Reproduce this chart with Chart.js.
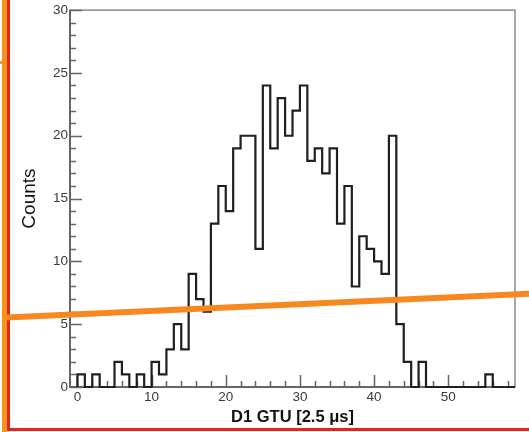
<!DOCTYPE html>
<html>
<head>
<meta charset="utf-8">
<title>D1 GTU distribution</title>
<script src="https://cdn.jsdelivr.net/npm/chart.js@4.4.1/dist/chart.umd.min.js"></script>
<style>
  html, body { margin: 0; padding: 0; background: #ffffff; }
  #wrap { position: relative; width: 529px; height: 432px; overflow: hidden; }
  canvas { display: block; }
</style>
</head>
<body>
<div id="wrap"><canvas id="hist" width="529" height="432"></canvas></div>
<script>
// Histogram of D1 GTU values (1 GTU = 2.5 µs), unit-width bins starting at 0
const binStart = 0;
const binWidth = 1;
const counts = [
  1, 0, 1, 0, 0, 2, 1, 0, 1, 0,
  2, 1, 3, 5, 3, 9, 7, 6, 13, 16,
  14, 19, 20, 20, 11, 24, 19, 23, 20, 22,
  24, 18, 19, 17, 19, 13, 16, 8, 12, 11,
  10, 9, 20, 5, 2, 0, 2, 0, 0, 0,
  0, 0, 0, 0, 0, 1, 0, 0, 0
];
const xTickValues = [0, 10, 20, 30, 40, 50];
const yTickValues = [0, 5, 10, 15, 20, 25, 30];
// straight guide line overlaid on the plot, given in axis units
const guideX = [-9.6, 60.9];
const guideY = [5.53, 7.43];

const FONT = "'Liberation Sans', Arial, Helvetica, sans-serif";

// step outline: one point per bin lower edge, closed down to zero at both ends
const outline = [{ x: binStart, y: 0 }];
counts.forEach((c, i) => outline.push({ x: binStart + i * binWidth, y: c }));
outline.push({ x: binStart + counts.length * binWidth, y: 0 });

// ROOT-style frame with tick marks pointing into the plot
const rootAxes = {
  id: 'rootAxes',
  beforeDatasetsDraw(chart) {
    const { ctx, chartArea: a, scales: { x, y } } = chart;
    ctx.save();
    ctx.strokeStyle = '#8c8c8c';
    ctx.lineWidth = 1.5;
    ctx.strokeRect(a.left, a.top, a.right - a.left, a.bottom - a.top);
    ctx.strokeStyle = '#666666';
    ctx.lineWidth = 2;
    ctx.beginPath();
    ctx.moveTo(a.left, a.top);
    ctx.lineTo(a.left, a.bottom);
    ctx.lineTo(a.right, a.bottom);
    ctx.stroke();
    ctx.lineWidth = 1.5;
    ctx.beginPath();
    for (let v = y.min; v <= y.max; v += 1) {
      const len = v % 5 === 0 ? 12 : 6;
      const py = Math.round(y.getPixelForValue(v)) + 0.5;
      ctx.moveTo(a.left, py);
      ctx.lineTo(a.left + len, py);
    }
    for (let v = 0; v <= x.max; v += 2) {
      const len = v % 10 === 0 ? 12 : 6;
      const px = Math.round(x.getPixelForValue(v)) + 0.5;
      ctx.moveTo(px, a.bottom);
      ctx.lineTo(px, a.bottom - len);
    }
    ctx.stroke();
    ctx.restore();
  },
  afterDraw(chart) {
    const { ctx, width, height, scales: { x, y } } = chart;
    ctx.save();
    // page edge markings
    ctx.fillStyle = '#f5931f';
    ctx.fillRect(2, 0, 5, height);
    ctx.fillRect(0, 61, 6, 3);
    ctx.fillStyle = '#e3241b';
    ctx.fillRect(7, 0, 3, height - 1);
    ctx.fillRect(7, height - 4, width - 7, 3);
    // guide line
    ctx.strokeStyle = '#f5891f';
    ctx.lineWidth = 6;
    ctx.lineCap = 'butt';
    ctx.beginPath();
    ctx.moveTo(x.getPixelForValue(guideX[0]), y.getPixelForValue(guideY[0]));
    ctx.lineTo(x.getPixelForValue(guideX[1]), y.getPixelForValue(guideY[1]));
    ctx.stroke();
    ctx.restore();
  }
};

new Chart(document.getElementById('hist'), {
  type: 'line',
  data: {
    datasets: [{
      data: outline,
      stepped: 'before',
      borderColor: '#1f1f1f',
      borderWidth: 2.2,
      pointRadius: 0,
      fill: false,
      clip: 6
    }]
  },
  options: {
    responsive: false,
    animation: false,
    events: [],
    layout: { padding: { left: 18, top: 10, right: 14, bottom: 5 } },
    plugins: { legend: { display: false }, tooltip: { enabled: false } },
    scales: {
      x: {
        type: 'linear',
        min: -1,
        max: 59,
        afterBuildTicks: s => { s.ticks = xTickValues.map(v => ({ value: v })); },
        afterFit: s => { s.height = 40; },
        grid: { display: false, drawTicks: false },
        border: { display: false },
        ticks: { padding: 2, color: '#3a3a3a', maxRotation: 0, autoSkip: false,
                 font: { family: FONT, size: 13.5 } },
        title: { display: true, text: 'D1 GTU [2.5 μs]', color: '#111111', padding: 0,
                 font: { family: FONT, size: 16.5, weight: 'bold' } }
      },
      y: {
        type: 'linear',
        min: 0,
        max: 30,
        afterBuildTicks: s => { s.ticks = yTickValues.map(v => ({ value: v })); },
        afterFit: s => { s.width = 52; },
        grid: { display: false, drawTicks: false },
        border: { display: false },
        ticks: { padding: 2, color: '#3a3a3a', autoSkip: false,
                 font: { family: FONT, size: 13.5 } },
        title: { display: true, text: 'Counts', color: '#111111', padding: 0,
                 font: { family: FONT, size: 19 } }
      }
    }
  },
  plugins: [rootAxes]
});
</script>
</body>
</html>
